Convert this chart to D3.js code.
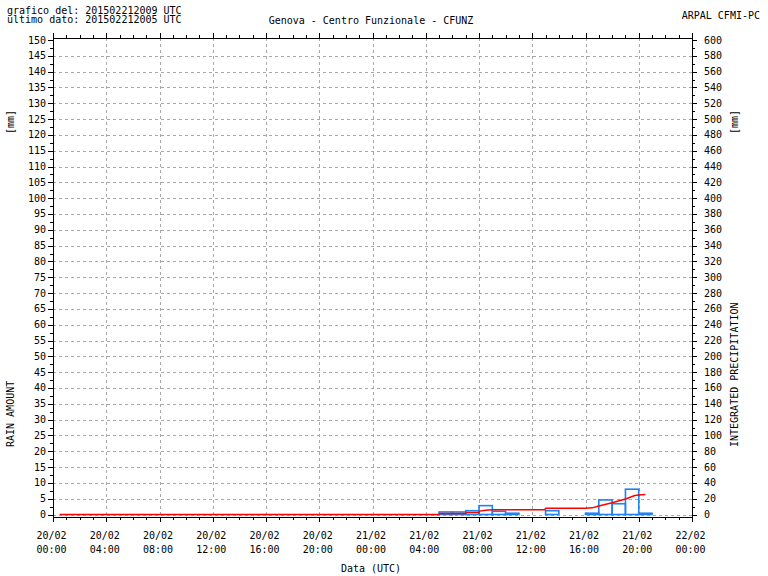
<!DOCTYPE html>
<html>
<head>
<meta charset="utf-8">
<script src="https://cdn.jsdelivr.net/npm/d3@7"></script>
<style>
  html, body { margin: 0; padding: 0; background: #ffffff; }
  svg { display: block; }
  text { font-family: "DejaVu Sans Mono", monospace; font-size: 10px; fill: #000; }
</style>
</head>
<body>
<script>
// ---------- DATA ----------
const headerLines = ["grafico del: 201502212009 UTC", "ultimo dato: 201502212005 UTC"];
const titleText = "Genova - Centro Funzionale - CFUNZ";
const agencyText = "ARPAL CFMI-PC";
const xAxisTitle = "Data (UTC)";
const leftAxisTitle = "RAIN AMOUNT";
const rightAxisTitle = "INTEGRATED PRECIPITATION";
const unitLabel = "[mm]";

// x ticks: hours from 20/02 00:00 UTC
const xTickHours = [0, 4, 8, 12, 16, 20, 24, 28, 32, 36, 40, 44, 48];
const xTickDates = ["20/02","20/02","20/02","20/02","20/02","20/02","21/02","21/02","21/02","21/02","21/02","21/02","22/02"];
const xTickTimes = ["00:00","04:00","08:00","12:00","16:00","20:00","00:00","04:00","08:00","12:00","16:00","20:00","00:00"];

// left axis ticks (mm) and right axis ticks (mm)
const leftTicks = [0,5,10,15,20,25,30,35,40,45,50,55,60,65,70,75,80,85,90,95,100,105,110,115,120,125,130,135,140,145,150];
const rightTicks = [0,20,40,60,80,100,120,140,160,180,200,220,240,260,280,300,320,340,360,380,400,420,440,460,480,500,520,540,560,580,600];

// hourly rain amount [mm], hour index 0 = 20/02 00:00-01:00
const rainHourly = [
  0,0,0,0,0,0,0,0,0,0,
  0,0,0,0,0,0,0,0,0,0,
  0,0,0,0,0,0,0,0,0,0.8,
  0.8,1.2,2.8,1.0,0.4,0,0,1.2,0,0,
  0.4,4.6,3.4,8.0,0.4
];

// integrated precipitation [mm] (right axis)
const cumHours  = [0.5, 29.0, 29.05, 31.0, 31.05, 32.0, 32.05, 32.5, 33.0, 36.95, 37.0, 40.0, 40.5, 41.0, 42.0, 43.0, 43.7, 44.0, 44.5];
const cumValues = [0,   0,    1.3,   1.3,  2.5,   2.5,  4.3,   5.5,  6.0,  6.0,   7.8,  7.9,  8.4,  10.8, 14.8, 19.6, 24.0, 24.7, 25.2];

// ---------- LAYOUT ----------
const W = 768, H = 576;
const frame = {left: 53, right: 692, top: 38, bottom: 517};

const svg = d3.select("body").append("svg").attr("width", W).attr("height", H);

const x = d3.scaleLinear().domain([0, 48]).range([frame.left, frame.right]);
const yL = d3.scaleLinear().domain([0, 150]).range([514.5, 40]);
const yR = d3.scaleLinear().domain([0, 600]).range([514.5, 40]);

// grid
const grid = svg.append("g").attr("stroke", "#a8a8a8").attr("stroke-dasharray", "3,3").attr("stroke-width", 1);
grid.selectAll("line.h").data(leftTicks.filter(d => d < 150)).join("line")
  .attr("x1", frame.left).attr("x2", frame.right)
  .attr("y1", d => Math.round(yL(d)) + 0.5).attr("y2", d => Math.round(yL(d)) + 0.5);
grid.selectAll("line.v").data(xTickHours.filter(d => d > 0 && d < 48)).join("line")
  .attr("y1", frame.top).attr("y2", frame.bottom)
  .attr("x1", d => Math.round(x(d)) + 0.5).attr("x2", d => Math.round(x(d)) + 0.5);

// bars (outlined)
svg.append("g").selectAll("rect").data(rainHourly).join("rect")
  .attr("x", (d, i) => x(i))
  .attr("width", (d, i) => x(i + 1) - x(i))
  .attr("y", d => yL(d))
  .attr("height", d => yL(0) - yL(d))
  .attr("fill", "none")
  .attr("stroke", "#1e82f0")
  .attr("stroke-width", 1.6);

// integrated line
const cumData = cumHours.map((h, i) => [h, cumValues[i]]);
svg.append("path").datum(cumData)
  .attr("d", d3.line().x(d => x(d[0])).y(d => yR(d[1])))
  .attr("fill", "none").attr("stroke", "#ff0000").attr("stroke-width", 1.5);

// frame
svg.append("rect").attr("x", frame.left + 0.5).attr("y", frame.top + 0.5)
  .attr("width", frame.right - frame.left).attr("height", frame.bottom - frame.top)
  .attr("fill", "none").attr("stroke", "#000").attr("stroke-width", 1);

// axes ticks
const hourTicks = d3.range(0, 49);
const leftMinor = d3.range(2.5, 150, 5);
const rightMinor = d3.range(10, 600, 20);

function tickLines(g, data, fx1, fy1, fx2, fy2) {
  g.selectAll(null).data(data).join("line")
    .attr("x1", fx1).attr("y1", fy1).attr("x2", fx2).attr("y2", fy2)
    .attr("stroke", "#000").attr("stroke-width", 1);
}
const tg = svg.append("g");
tickLines(tg, hourTicks, d => Math.round(x(d)) + 0.5, frame.bottom, d => Math.round(x(d)) + 0.5, d => frame.bottom + (d % 4 === 0 ? 5 : 3));
tickLines(tg, hourTicks, d => Math.round(x(d)) + 0.5, frame.top, d => Math.round(x(d)) + 0.5, d => frame.top - (d % 4 === 0 ? 5 : 3));
tickLines(tg, leftTicks, frame.left, d => Math.round(yL(d)) + 0.5, frame.left - 5, d => Math.round(yL(d)) + 0.5);
tickLines(tg, leftMinor, frame.left, d => Math.round(yL(d)) + 0.5, frame.left - 3, d => Math.round(yL(d)) + 0.5);
tickLines(tg, rightTicks, frame.right, d => Math.round(yR(d)) + 0.5, frame.right + 5, d => Math.round(yR(d)) + 0.5);
tickLines(tg, rightMinor, frame.right, d => Math.round(yR(d)) + 0.5, frame.right + 3, d => Math.round(yR(d)) + 0.5);

// tick labels
svg.append("g").selectAll("text").data(leftTicks).join("text")
  .attr("x", 46).attr("y", d => yL(d) + 3.5).attr("text-anchor", "end").text(d => d);
svg.append("g").selectAll("text").data(rightTicks).join("text")
  .attr("x", 704).attr("y", d => yR(d) + 3.5).attr("text-anchor", "start").text(d => d);
const xl = svg.append("g");
xl.selectAll("text.d").data(xTickHours).join("text")
  .attr("x", d => x(d) - 1.5).attr("y", 539).attr("text-anchor", "middle").text((d, i) => xTickDates[i]);
xl.selectAll("text.t").data(xTickHours).join("text")
  .attr("x", d => x(d) - 1.5).attr("y", 552.5).attr("text-anchor", "middle").text((d, i) => xTickTimes[i]);

// axis titles
svg.append("text").attr("x", 371).attr("y", 571.5).attr("text-anchor", "middle").text(xAxisTitle);
svg.append("text").attr("transform", "translate(14,447) rotate(-90)").attr("text-anchor", "start").text(leftAxisTitle);
svg.append("text").attr("transform", "translate(14,122) rotate(-90)").attr("text-anchor", "middle").text(unitLabel);
svg.append("text").attr("transform", "translate(738,447) rotate(-90)").attr("text-anchor", "start").text(rightAxisTitle);
svg.append("text").attr("transform", "translate(738,122) rotate(-90)").attr("text-anchor", "middle").text(unitLabel);

// header (two tightly spaced lines, as in the reference)
svg.append("text").attr("x", 7).attr("y", 14).text(headerLines[0]);
svg.append("text").attr("x", 7).attr("y", 23).text(headerLines[1]);
svg.append("text").attr("x", 371).attr("y", 24).attr("text-anchor", "middle").text(titleText);
svg.append("text").attr("x", 760).attr("y", 19).attr("text-anchor", "end").text(agencyText);
</script>
</body>
</html>
